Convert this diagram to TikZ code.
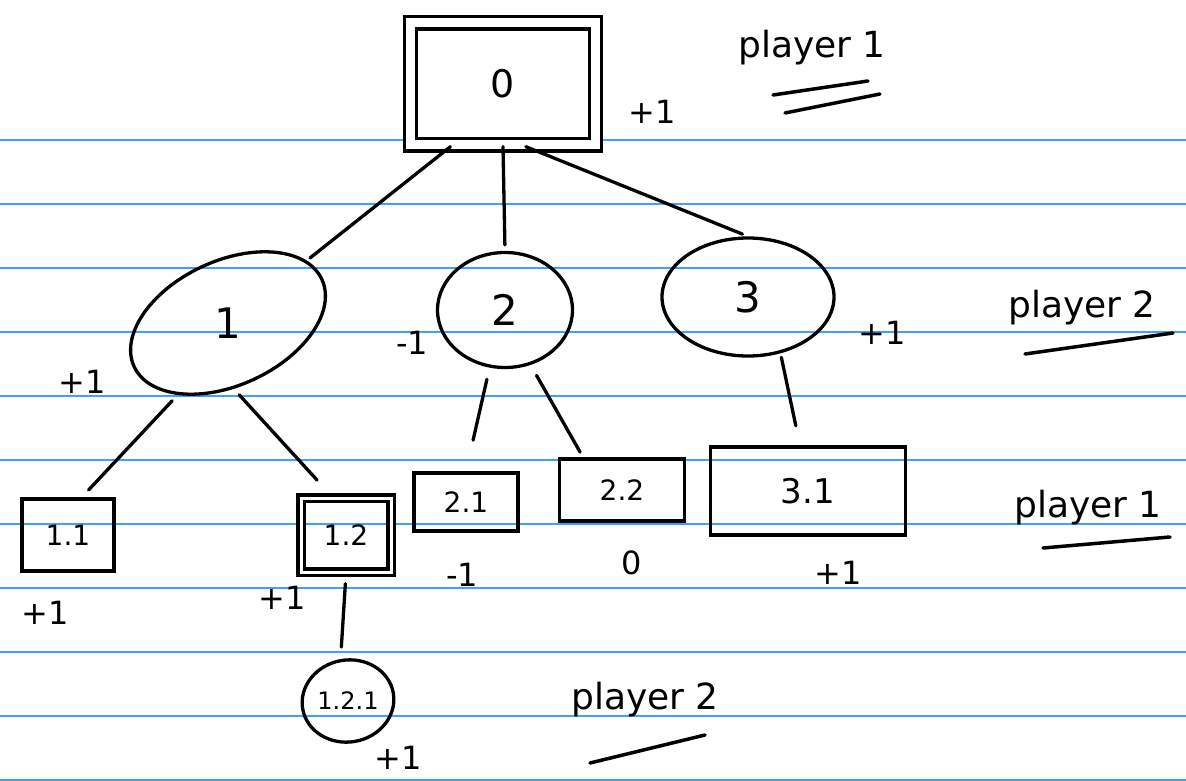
\documentclass[tikz,border=0pt]{standalone}
\usepackage{fontspec}
\setmainfont{DejaVu Sans}
\usetikzlibrary{shapes.geometric}
\definecolor{rulecol}{RGB}{64,160,255}
\begin{document}
\begin{tikzpicture}[x=1pt,y=-1pt,
  ink/.style={line width=3.3pt, line cap=round, line join=round},
  box/.style={ink, draw, rectangle, inner sep=0pt, line join=miter},
  oval/.style={ink, draw, ellipse, inner sep=0pt},
  big/.style={font=\fontsize{42}{46}\selectfont},
  small/.style={font=\fontsize{28}{32}\selectfont},
  val/.style={font=\fontsize{32}{36}\selectfont},
  plr/.style={font=\fontsize{36}{40}\selectfont},
  edge/.style={ink},
  uline/.style={ink, line width=3.5pt},
  paperline/.style={draw=rulecol, line width=1.3pt},
]
\useasboundingbox (0,0) rectangle (1186,781);
\fill[white] (0,0) rectangle (1186,781);
\foreach \y in {140,204,...,780} \draw[paperline] (0,\y) -- (1186,\y);

% root
\node[box, double, double distance=9pt, minimum width=185pt, minimum height=122pt, font=\fontsize{38}{42}\selectfont] (root) at (503,84) {0};
\node[val] (vroot) at (652,112) {+1};
\node[plr] (p1top) at (812,48) {player 1};
\draw[uline] (773,95) -- (868,81);
\draw[uline] (785,113) -- (880,94);

% level 1
\node[oval, rotate=25, minimum width=207pt, minimum height=124pt] (n1) at (228,323) {\rotatebox{-25}{\fontsize{42}{46}\selectfont 1}};
\node[oval, big, minimum width=135pt, minimum height=115pt] (n2) at (505,310) {2};
\node[oval, big, minimum width=172pt, minimum height=118pt] (n3) at (748,297) {3};
\node[val] (v1) at (82,382) {+1};
\node[val] (v2) at (412,343) {-1};
\node[val] (v3) at (882,333) {+1};
\node[plr] (p2right) at (1082,308) {player 2};
\draw[uline] (1025,354) -- (1173,333);

% level 2
\node[box, small, minimum width=92pt, minimum height=72pt] (n11) at (68,535) {1.1};
\node[box, small, double, double distance=3pt, minimum width=90pt, minimum height=74pt] (n12) at (346,535) {1.2};
\node[box, small, minimum width=104pt, minimum height=58pt] (n21) at (466,502) {2.1};
\node[box, small, minimum width=125pt, minimum height=62pt] (n22) at (622,490) {2.2};
\node[box, font=\fontsize{34}{38}\selectfont, minimum width=195pt, minimum height=88pt] (n31) at (808,491) {3.1};
\node[val] (v11) at (45,613) {+1};
\node[val] (v12) at (282,598) {+1};
\node[val] (v21) at (462,575) {-1};
\node[val] (v22) at (632,563) {0};
\node[val] (v31) at (838,573) {+1};
\node[plr] (p1right) at (1088,508) {player 1};
\draw[uline] (1043,548) -- (1170,537);

% level 3
\node[oval, rotate=10, minimum width=92pt, minimum height=82pt] (n121) at (348,701) {\rotatebox{-10}{\fontsize{24}{28}\selectfont 1.2.1}};
\node[val] (v121) at (398,758) {+1};
\node[plr] (p2bottom) at (645,700) {player 2};
\draw[uline] (590,763) -- (705,735);

% edges
\draw[edge, shorten >=4pt] (root.-130) -- (n1);
\draw[edge, shorten >=6pt] (root.south) -- (n2.north);
\draw[edge, shorten >=6pt] (root.-70) -- (n3.north);
\draw[edge, shorten <=8pt, shorten >=10pt] (n1.-150) -- (n11.70);
\draw[edge, shorten <=8pt, shorten >=22pt] (n1.-110) -- (n12.110);
\draw[edge, shorten <=12pt, shorten >=32pt] (n2.-105) -- (n21.north);
\draw[edge, shorten <=12pt, shorten >=6pt] (n2.-65) -- (n22.140);
\draw[edge, shorten <=4pt, shorten >=20pt] (n3.-60) -- (n31.100);
\draw[edge, shorten <=10pt, shorten >=12pt] (n12.south) -- (n121.north);
\end{tikzpicture}
\end{document}
